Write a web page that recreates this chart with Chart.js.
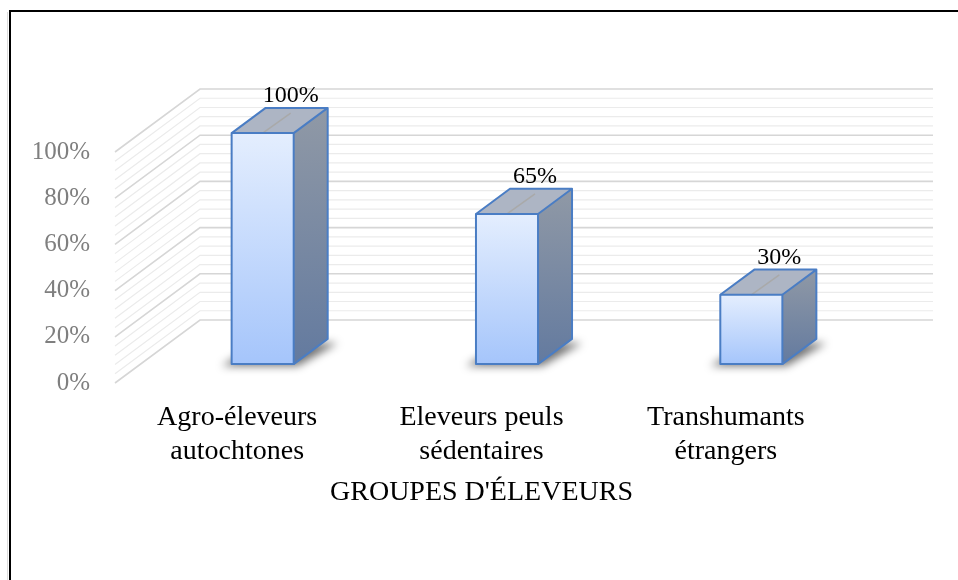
<!DOCTYPE html>
<html lang="fr">
<head>
<meta charset="UTF-8">
<title>Groupes d'éleveurs</title>
<script src="https://cdn.jsdelivr.net/npm/chart.js"></script>
<style>
    body {
        margin: 0;
        background: #fff;
    }
    #wrap {
        width: 958px;
        height: 580px;
    }
</style>
</head>
<body>
<div id="wrap">
    <canvas id="chart" width="958" height="580"></canvas>
</div>
<script>
    // donnees
    const categories = [
        ['Agro-éleveurs', 'autochtones'],
        ['Eleveurs peuls', 'sédentaires'],
        ['Transhumants', 'étrangers']
    ];
    const shares = [100, 65, 30];
    const yTickValues = [0, 20, 40, 60, 80, 100];
    const minorStep = 4;
    const axisTitle = "GROUPES D'ÉLEVEURS";

    const serif = "'Liberation Serif', 'Times New Roman', serif";

    // decalage de profondeur (plan avant -> mur du fond)
    const DX = 85, DY = -63;
    const BAR_FRONT = 0.3, BAR_BACK = 0.7;

    const framePlugin = {
        id: 'frame',
        beforeDraw(chart) {
            const ctx = chart.ctx;
            ctx.save();
            ctx.fillStyle = '#dcdcdc';
            ctx.fillRect(7, 12, 1, 568);
            ctx.fillStyle = '#000';
            ctx.fillRect(9, 10, 2, 570);
            ctx.fillRect(9, 10, 949, 2);
            ctx.restore();
        }
    };

    const wallsPlugin = {
        id: 'walls',
        beforeDatasetsDraw(chart) {
            const ctx = chart.ctx;
            const area = chart.chartArea;
            const y = chart.scales.y;
            ctx.save();
            // lignes secondaires d'abord, puis principales
            for (let pass = 0; pass < 2; pass++) {
                for (let v = y.min; v <= y.max; v += minorStep) {
                    const major = yTickValues.includes(v);
                    if ((pass === 0) === major) continue;
                    const py = y.getPixelForValue(v);
                    ctx.strokeStyle = major ? '#d6d6d6' : '#ebebeb';
                    ctx.lineWidth = major ? 1.6 : 1.2;
                    ctx.beginPath();
                    ctx.moveTo(area.left, py);
                    ctx.lineTo(area.left + DX, py + DY);
                    ctx.lineTo(area.right + DX, py + DY);
                    ctx.stroke();
                }
            }
            ctx.restore();
        },
        afterDatasetsDraw(chart) {
            const ctx = chart.ctx;
            const meta = chart.getDatasetMeta(0);
            const ddx = DX * (BAR_BACK - BAR_FRONT);
            const ddy = DY * (BAR_BACK - BAR_FRONT);
            ctx.save();
            meta.data.forEach((bar, i) => {
                const p = bar.getProps(['x', 'y', 'base', 'width'], true);
                const L = p.x - p.width / 2 + DX * BAR_FRONT;
                const R = L + p.width;
                const T = p.y + DY * BAR_FRONT;
                const B = p.base + DY * BAR_FRONT;

                // ombre au sol
                ctx.save();
                ctx.filter = 'blur(4px)';
                ctx.fillStyle = 'rgba(0,0,0,0.55)';
                ctx.beginPath();
                ctx.moveTo(L - 10, B + 2);
                ctx.lineTo(R + 4, B + 2);
                ctx.lineTo(R + ddx + 10, B + ddy + 4);
                ctx.lineTo(L + ddx - 6, B + ddy + 4);
                ctx.closePath();
                ctx.fill();
                ctx.restore();

                // face droite
                let g = ctx.createLinearGradient(0, T + ddy, 0, B);
                g.addColorStop(0, '#9099a6');
                g.addColorStop(1, '#637a9f');
                ctx.fillStyle = g;
                ctx.beginPath();
                ctx.moveTo(R, T);
                ctx.lineTo(R + ddx, T + ddy);
                ctx.lineTo(R + ddx, B + ddy);
                ctx.lineTo(R, B);
                ctx.closePath();
                ctx.fill();

                // face du dessus
                ctx.fillStyle = '#adb5c4';
                ctx.beginPath();
                ctx.moveTo(L, T);
                ctx.lineTo(L + ddx, T + ddy);
                ctx.lineTo(R + ddx, T + ddy);
                ctx.lineTo(R, T);
                ctx.closePath();
                ctx.fill();

                // face avant
                g = ctx.createLinearGradient(0, T, 0, B);
                g.addColorStop(0, '#e4eefe');
                g.addColorStop(1, '#a5c5fb');
                ctx.fillStyle = g;
                ctx.fillRect(L, T, p.width, B - T);

                // trait de rappel vers l'etiquette
                const cx = p.x + DX * BAR_FRONT;
                ctx.strokeStyle = '#a9a9a9';
                ctx.lineWidth = 1.5;
                ctx.beginPath();
                ctx.moveTo(cx, T);
                ctx.lineTo(cx + 28, T - 20);
                ctx.stroke();

                // contours
                ctx.strokeStyle = '#4a7dc4';
                ctx.lineWidth = 2;
                ctx.lineJoin = 'round';
                ctx.strokeRect(L, T, p.width, B - T);
                ctx.beginPath();
                ctx.moveTo(L, T);
                ctx.lineTo(L + ddx, T + ddy);
                ctx.lineTo(R + ddx, T + ddy);
                ctx.lineTo(R, T);
                ctx.moveTo(R + ddx, T + ddy);
                ctx.lineTo(R + ddx, B + ddy);
                ctx.lineTo(R, B);
                ctx.stroke();

                // etiquette de donnees
                ctx.fillStyle = '#000';
                ctx.font = '24px ' + serif;
                ctx.textAlign = 'center';
                ctx.textBaseline = 'middle';
                ctx.fillText(shares[i] + '%', cx + 28, T - 37);
            });
            ctx.restore();
        }
    };

    new Chart(document.getElementById('chart'), {
        type: 'bar',
        data: {
            labels: categories,
            datasets: [{
                data: shares,
                backgroundColor: 'rgba(0,0,0,0)',
                borderWidth: 0,
                categoryPercentage: 1,
                barPercentage: 0.254
            }]
        },
        options: {
            responsive: false,
            animation: false,
            layout: {
                padding: { left: 0, top: 152, right: 110, bottom: 0 }
            },
            plugins: {
                legend: { display: false },
                tooltip: { enabled: false }
            },
            scales: {
                x: {
                    grid: { display: false, drawTicks: false },
                    border: { display: false },
                    ticks: {
                        color: '#000',
                        padding: 17,
                        maxRotation: 0,
                        autoSkip: false,
                        font: { family: serif, size: 28, lineHeight: 1.23 }
                    },
                    title: {
                        display: true,
                        text: axisTitle,
                        color: '#000',
                        padding: { top: 0, bottom: 71 },
                        font: { family: serif, size: 28, lineHeight: 1.2 }
                    },
                    afterFit(scale) { scale.height = 197; }
                },
                y: {
                    min: 0,
                    max: 100,
                    grid: { display: false, drawTicks: false },
                    border: { display: false },
                    afterBuildTicks(scale) {
                        scale.ticks = yTickValues.map(v => ({ value: v }));
                    },
                    ticks: {
                        color: '#7f7f7f',
                        padding: 25,
                        font: { family: serif, size: 25 },
                        callback: v => v + '%'
                    },
                    afterFit(scale) { scale.width = 115; }
                }
            }
        },
        plugins: [framePlugin, wallsPlugin]
    });
</script>
</body>
</html>
